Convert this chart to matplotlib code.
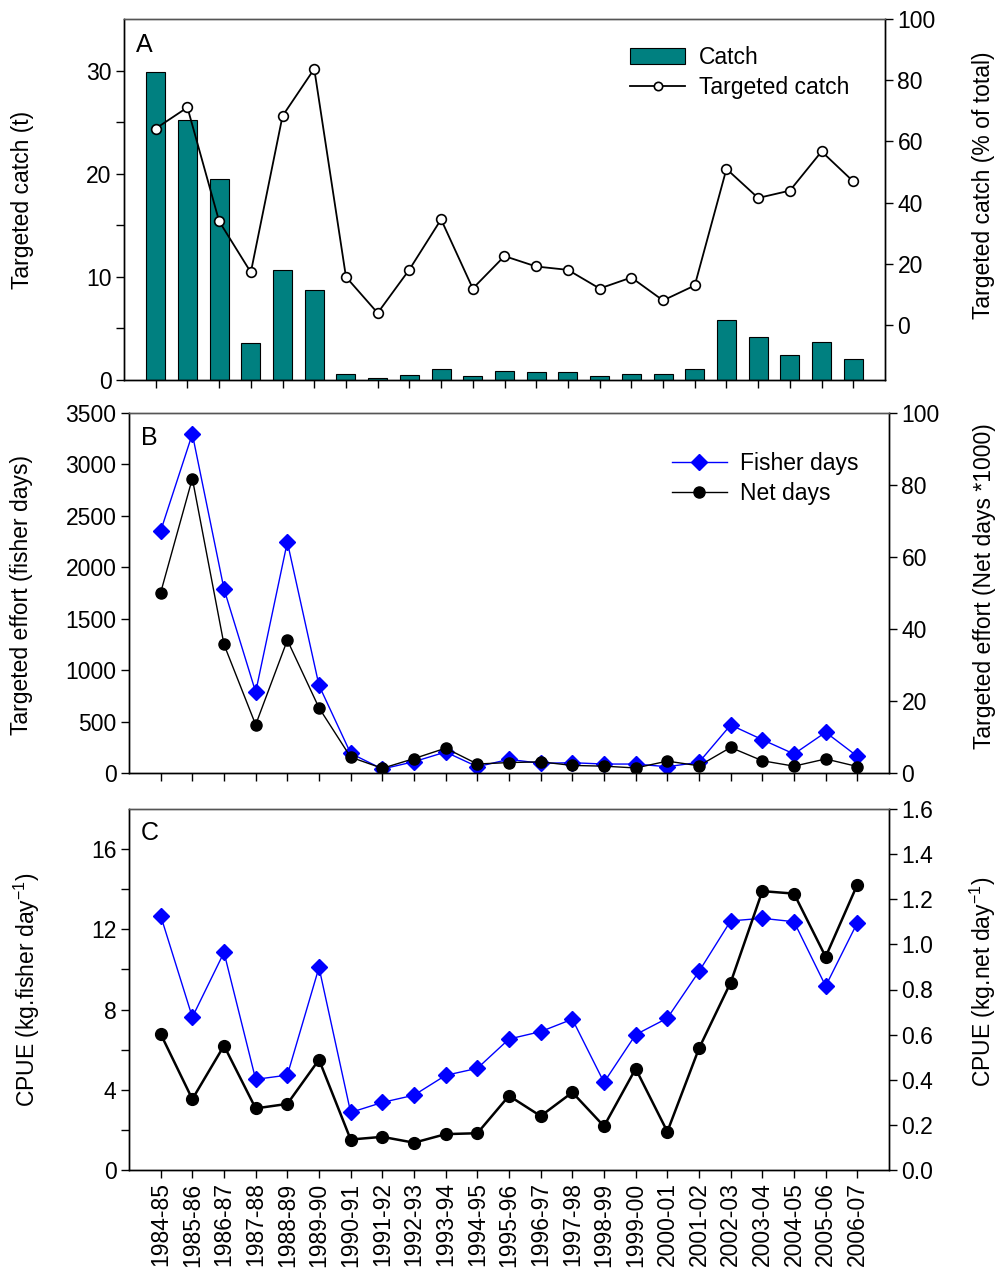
import matplotlib
matplotlib.use("Agg")
import matplotlib.pyplot as plt
from matplotlib.ticker import FixedLocator
from matplotlib.lines import Line2D
from matplotlib.patches import Patch

plt.rcParams['font.family'] = ['Liberation Sans', 'DejaVu Sans']
plt.rcParams['mathtext.default'] = 'regular'

seasons = ["1984-85", "1985-86", "1986-87", "1987-88", "1988-89", "1989-90",
           "1990-91", "1991-92", "1992-93", "1993-94", "1994-95", "1995-96",
           "1996-97", "1997-98", "1998-99", "1999-00", "2000-01", "2001-02",
           "2002-03", "2003-04", "2004-05", "2005-06", "2006-07"]

catch_t = [29.9, 25.2, 19.5, 3.6, 10.7, 8.7, 0.58, 0.16, 0.45, 1.04, 0.39, 0.9,
           0.75, 0.75, 0.39, 0.61, 0.55, 1.04, 5.86, 4.14, 2.39, 3.69, 2.07]
targeted_pct = [64.2, 71.1, 33.9, 17.2, 68.3, 83.7, 15.7, 3.9, 18.1, 34.5, 11.9, 22.5,
                19.1, 18.0, 11.9, 15.5, 8.0, 12.9, 51.0, 41.5, 43.9, 56.7, 46.9]

fisher_days = [2353, 3296, 1789, 787, 2246, 852, 191, 39, 110, 204, 61, 133,
               94, 100, 87, 87, 61, 104, 467, 324, 185, 396, 162]
net_days_k = [50.1, 81.8, 35.7, 13.4, 36.9, 18.1, 4.4, 1.3, 4.0, 6.9, 2.5, 2.9,
              3.1, 2.1, 1.9, 1.4, 3.3, 2.0, 7.1, 3.4, 1.9, 3.9, 1.8]

cpue_fisher = [12.68, 7.62, 10.85, 4.52, 4.73, 10.1, 2.87, 3.37, 3.73, 4.72, 5.07, 6.53,
               6.9, 7.52, 4.37, 6.75, 7.57, 9.9, 12.42, 12.55, 12.38, 9.17, 12.33]
cpue_net = [0.603, 0.314, 0.551, 0.273, 0.293, 0.489, 0.135, 0.147, 0.121, 0.159, 0.163, 0.329,
            0.239, 0.344, 0.194, 0.449, 0.170, 0.539, 0.831, 1.236, 1.225, 0.945, 1.265]

FS = 16.5
W, H = 998, 1271
fig = plt.figure(figsize=(W / 100, H / 100), dpi=100)

def box(l, r, t, b):
    return [l / W, 1 - b / H, (r - l) / W, (b - t) / H]

x = list(range(len(seasons)))

def style(ax):
    for s in ax.spines.values():
        s.set_linewidth(1.0)
    ax.spines['top'].set_color('#555555')
    ax.tick_params(direction='out', length=6, width=1, labelsize=FS, pad=3)
    ax.tick_params(which='minor', direction='out', length=6, width=1)
    ax.set_xlim(-1, 23)
    ax.set_xticks(x)

def setup_pair(ax, ax2, llabel, rlabel, lx, ly, rx, ry):
    style(ax)
    style(ax2)
    ax.tick_params(top=False, right=False)
    ax2.tick_params(top=False, left=False, labelleft=False)
    ax.set_ylabel(llabel, fontsize=FS)
    ax2.set_ylabel(rlabel, fontsize=FS)
    ax.yaxis.set_label_coords(lx, ly)
    ax2.yaxis.set_label_coords(rx, ry)
    ax.yaxis.label.set_va('center')
    ax2.yaxis.label.set_va('center')

# ---------- Panel A ----------
axA = fig.add_axes(box(124, 885, 19, 380))
axA2 = axA.twinx()
axA.bar(x, catch_t, width=0.6, color='#008080', edgecolor='black', linewidth=0.8)
axA.set_ylim(0, 35)
axA.yaxis.set_major_locator(FixedLocator([0, 10, 20, 30]))
axA.yaxis.set_minor_locator(FixedLocator([5, 15, 25]))
axA2.plot(x, targeted_pct, color='black', lw=1.3, marker='o', ms=7,
          mfc='white', mec='black', mew=1.2)
axA2.set_ylim(-18, 100)
axA2.set_yticks([0, 20, 40, 60, 80, 100])
setup_pair(axA, axA2, 'Targeted catch (t)', 'Targeted catch (% of total)',
           -0.134, 0.5, 1.129, 0.54)
axA.set_xticklabels([])
axA.text(0.016, 0.928, 'A', transform=axA.transAxes, fontsize=18, va='center', ha='left')
hA = [Patch(facecolor='#008080', edgecolor='black', linewidth=0.8),
      Line2D([], [], color='black', lw=1.3, marker='o', ms=6, mfc='white', mec='black', mew=1.2)]
axA2.legend(hA, ['Catch', 'Targeted catch'], loc='upper left', bbox_to_anchor=(0.665, 0.925),
            frameon=False, fontsize=FS, borderpad=0, borderaxespad=0,
            handlelength=2.4, handletextpad=0.6, labelspacing=0.3)

# ---------- Panel B ----------
axB = fig.add_axes(box(129, 889, 413, 773))
axB2 = axB.twinx()
axB.plot(x, fisher_days, color='#0000FF', lw=1.0, marker='D', ms=8,
         mfc='#0000FF', mec='#0000FF')
axB.set_ylim(0, 3500)
axB.set_yticks(range(0, 3501, 500))
axB2.plot(x, net_days_k, color='black', lw=1.0, marker='o', ms=8,
          mfc='black', mec='black')
axB2.set_ylim(0, 100)
axB2.set_yticks(range(0, 101, 20))
setup_pair(axB, axB2, 'Targeted effort (fisher days)', 'Targeted effort (Net days *1000)',
           -0.141, 0.494, 1.126, 0.52)
axB.set_xticklabels([])
axB.text(0.016, 0.93, 'B', transform=axB.transAxes, fontsize=18, va='center', ha='left')
hB = [Line2D([], [], color='#0000FF', lw=1.0, marker='D', ms=8, mfc='#0000FF', mec='#0000FF'),
      Line2D([], [], color='black', lw=1.0, marker='o', ms=8, mfc='black', mec='black')]
axB2.legend(hB, ['Fisher days', 'Net days'], loc='upper left', bbox_to_anchor=(0.714, 0.892),
            frameon=False, fontsize=FS, borderpad=0, borderaxespad=0,
            handlelength=2.4, handletextpad=0.6, labelspacing=0.3)

# ---------- Panel C ----------
axC = fig.add_axes(box(129, 889, 809, 1170))
axC2 = axC.twinx()
axC.plot(x, cpue_fisher, color='#0000FF', lw=1.0, marker='D', ms=8,
         mfc='#0000FF', mec='#0000FF')
axC.set_ylim(0, 18)
axC.yaxis.set_major_locator(FixedLocator([0, 4, 8, 12, 16]))
axC.yaxis.set_minor_locator(FixedLocator([2, 6, 10, 14]))
axC2.plot(x, cpue_net, color='black', lw=1.8, marker='o', ms=8.5,
          mfc='black', mec='black')
axC2.set_ylim(0, 1.6)
axC2.set_yticks([0.0, 0.2, 0.4, 0.6, 0.8, 1.0, 1.2, 1.4, 1.6])
axC2.set_yticklabels(['0.0', '0.2', '0.4', '0.6', '0.8', '1.0', '1.2', '1.4', '1.6'])
setup_pair(axC, axC2, 'CPUE (kg.fisher day$^{-1}$)', 'CPUE (kg.net day$^{-1}$)',
           -0.134, 0.5, 1.124, 0.52)
axC.set_xticklabels(seasons, rotation=90, fontsize=FS)
axC.text(0.016, 0.933, 'C', transform=axC.transAxes, fontsize=18, va='center', ha='left')

fig.savefig('out.png', dpi=100)
